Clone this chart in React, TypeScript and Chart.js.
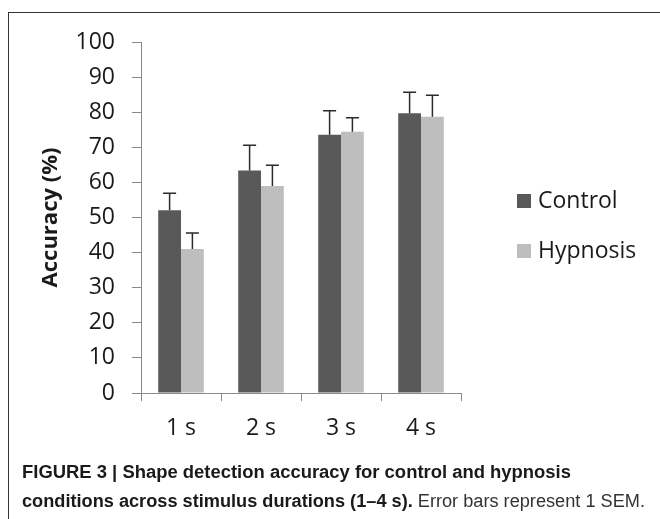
import React, { useEffect, useRef } from "react";
import { Chart, registerables } from "chart.js";

Chart.register(...registerables);

const categories = ["1 s", "2 s", "3 s", "4 s"];
const seriesNames = ["Control", "Hypnosis"];
const controlValues = [52.1, 63.4, 73.6, 79.7];
const hypnosisValues = [41.0, 59.0, 74.4, 78.7];
const controlSEM = [4.8, 7.2, 6.8, 6.0];
const hypnosisSEM = [4.6, 5.9, 4.0, 6.1];
const yTickValues = [0, 10, 20, 30, 40, 50, 60, 70, 80, 90, 100];
const yAxisTitle = "Accuracy (%)";
const captionBold1 = "FIGURE 3 | Shape detection accuracy for control and hypnosis";
const captionBold2 = "conditions across stimulus durations (1\u20134 s).";
const captionRegular2 = " Error bars represent 1 SEM.";

const seriesColors = ["#595959", "#bebebe"];
const semSeries = [controlSEM, hypnosisSEM];
const AXIS_FONT = '"Open Sans", "DejaVu Sans", sans-serif';

const errorBarPlugin = {
  id: "errorBars",
  afterDatasetsDraw(chart: any) {
    const ctx = chart.ctx;
    const yScale = chart.scales.y;
    chart.data.datasets.forEach((ds: any, di: number) => {
      const meta = chart.getDatasetMeta(di);
      const errs = semSeries[di];
      meta.data.forEach((bar: any, i: number) => {
        const v = ds.data[i];
        const top = yScale.getPixelForValue(v + errs[i]);
        const base = yScale.getPixelForValue(v);
        ctx.save();
        ctx.strokeStyle = "#2a2a2a";
        ctx.lineWidth = 1.5;
        ctx.beginPath();
        ctx.moveTo(bar.x, base);
        ctx.lineTo(bar.x, top);
        ctx.moveTo(bar.x - 6.5, top);
        ctx.lineTo(bar.x + 6.5, top);
        ctx.stroke();
        ctx.restore();
      });
    });
  },
};

const sideLegendPlugin = {
  id: "sideLegend",
  afterDraw(chart: any) {
    const { ctx, chartArea } = chart;
    const x0 = chartArea.right + 56;
    chart.data.datasets.forEach((ds: any, i: number) => {
      const y = chartArea.top + 159 + i * 50;
      ctx.save();
      ctx.fillStyle = ds.backgroundColor;
      ctx.fillRect(x0, y - 7, 14, 14);
      ctx.fillStyle = "#1a1a1a";
      ctx.font = `23px ${AXIS_FONT}`;
      ctx.textBaseline = "middle";
      ctx.textAlign = "left";
      ctx.fillText(ds.label, x0 + 21, y);
      ctx.restore();
    });
  },
};

export default function App() {
  const canvasRef = useRef<HTMLCanvasElement | null>(null);
  const line1Ref = useRef<HTMLDivElement | null>(null);
  const line2Ref = useRef<HTMLDivElement | null>(null);

  useEffect(() => {
    const fits: [HTMLDivElement | null, number][] = [
      [line1Ref.current, 549],
      [line2Ref.current, 623],
    ];
    fits.forEach(([el, w]) => {
      if (!el) return;
      el.style.transform = "none";
      const natural = el.getBoundingClientRect().width;
      if (natural > 0) el.style.transform = `scaleX(${w / natural})`;
    });

    const canvas = canvasRef.current;
    if (!canvas) return;
    const chart = new Chart(canvas, {
      type: "bar",
      data: {
        labels: categories,
        datasets: [
          {
            label: seriesNames[0],
            data: controlValues,
            backgroundColor: seriesColors[0],
            borderWidth: 0,
            categoryPercentage: 0.57,
            barPercentage: 1.0,
          },
          {
            label: seriesNames[1],
            data: hypnosisValues,
            backgroundColor: seriesColors[1],
            borderWidth: 0,
            categoryPercentage: 0.57,
            barPercentage: 1.0,
          },
        ],
      },
      options: {
        responsive: false,
        animation: false,
        events: [],
        layout: { padding: { left: 0, top: 42, right: 199, bottom: 0 } },
        plugins: {
          legend: { display: false },
          tooltip: { enabled: false },
        },
        scales: {
          x: {
            grid: {
              display: true,
              drawOnChartArea: false,
              drawTicks: true,
              tickLength: 8,
              color: "#8a8a8a",
              offset: true,
            },
            border: { display: true, color: "#8a8a8a", width: 1 },
            ticks: {
              color: "#1a1a1a",
              font: { family: AXIS_FONT, size: 23 },
              padding: 14,
              maxRotation: 0,
            },
            afterFit: (scale: any) => {
              scale.height = 67;
            },
          },
          y: {
            min: 0,
            max: 100,
            afterBuildTicks: (scale: any) => {
              scale.ticks = yTickValues.map((v) => ({ value: v }));
            },
            grid: {
              display: true,
              drawOnChartArea: false,
              drawTicks: true,
              tickLength: 9,
              color: "#8a8a8a",
            },
            border: { display: true, color: "#8a8a8a", width: 1 },
            ticks: {
              color: "#1a1a1a",
              font: { family: AXIS_FONT, size: 23 },
              padding: 17,
            },
            title: {
              display: true,
              text: yAxisTitle,
              color: "#1a1a1a",
              font: { family: AXIS_FONT, size: 22, weight: "bold" },
              padding: { top: 38, bottom: 0 },
            },
            afterFit: (scale: any) => {
              scale.width = 141;
            },
          },
        },
      },
      plugins: [errorBarPlugin, sideLegendPlugin],
    } as any);
    return () => chart.destroy();
  }, []);

  return (
    <div
      style={{
        position: "absolute",
        left: 0,
        top: 0,
        width: 660,
        height: 519,
        overflow: "hidden",
        background: "#ffffff",
      }}
    >
      <div
        style={{
          position: "absolute",
          left: 8,
          top: 12,
          width: 700,
          height: 600,
          borderLeft: "1px solid #333",
          borderTop: "1px solid #333",
        }}
      />
      <canvas
        ref={canvasRef}
        width={660}
        height={460}
        style={{ position: "absolute", left: 0, top: 0, width: 660, height: 460, display: "block" }}
      />
      <div
        style={{
          position: "absolute",
          left: 22,
          top: 458,
          fontFamily: '"Liberation Sans", Arial, sans-serif',
          fontSize: 18,
          lineHeight: "29px",
          color: "#1a1a1a",
          whiteSpace: "nowrap",
        }}
      >
        <div ref={line1Ref} style={{ display: "inline-block", transformOrigin: "left center", fontWeight: 700 }}>
          {captionBold1}
        </div>
        <br />
        <div ref={line2Ref} style={{ display: "inline-block", transformOrigin: "left center" }}>
          <span style={{ fontWeight: 700 }}>{captionBold2}</span>
          <span style={{ fontWeight: 400, color: "#333" }}>{captionRegular2}</span>
        </div>
      </div>
    </div>
  );
}
